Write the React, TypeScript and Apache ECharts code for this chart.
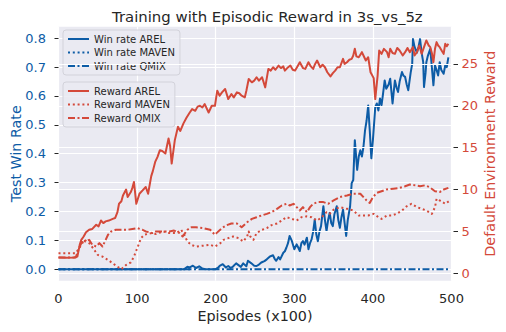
import React, { useEffect, useRef } from "react";
import * as echarts from "echarts";

// ---------- data ----------
const title = "Training with Episodic Reward in 3s_vs_5z";
const xName = "Episodes (x100)";
const leftName = "Test Win Rate";
const rightName = "Default Environment Reward";
const leftTicks = [0, 0.1, 0.2, 0.3, 0.4, 0.5, 0.6, 0.7, 0.8];
const rightTicks = [0, 5, 10, 15, 20, 25];
const winNames = ["Win rate AREL", "Win rate MAVEN", "Win rate QMIX"];
const rewardNames = ["Reward AREL", "Reward MAVEN", "Reward QMIX"];

const winArel = [
  [0, 0], [160, 0], [164, 0.008], [167, 0.006], [171, 0.012], [175, 0.004], [179, 0.01], [183, 0.002], [187, 0], [200, 0],
  [203, 0.005], [205, 0.011], [209, 0.017], [213, 0.006], [216, 0.011], [219, 0.004], [222, 0.009], [226, 0.02], [229, 0.014],
  [232, 0.008], [235, 0.02], [239, 0.01], [241, 0.029], [245, 0.021], [249, 0.012], [252, 0.011], [255, 0.016], [258, 0.023],
  [262, 0.028], [265, 0.034], [269, 0.044], [273, 0.048], [275, 0.036], [277, 0.029], [280, 0.042], [282, 0.034], [286, 0.057],
  [288, 0.062], [290, 0.075], [292, 0.09], [294, 0.115], [297, 0.097], [300, 0.069], [303, 0.086], [305, 0.075], [307, 0.063],
  [309, 0.09], [311, 0.097], [313, 0.085], [316, 0.109], [318, 0.069], [320, 0.09], [322, 0.103], [324, 0.13], [326, 0.172],
  [328, 0.12], [330, 0.097], [332, 0.13], [334, 0.149], [337, 0.218], [339, 0.17], [341, 0.132], [343, 0.17], [345, 0.195],
  [347, 0.16], [349, 0.149], [351, 0.19], [354, 0.218], [356, 0.17], [358, 0.143], [360, 0.18], [362, 0.206], [364, 0.16],
  [366, 0.115], [368, 0.17], [371, 0.218], [373, 0.298], [375, 0.309], [377, 0.447], [380, 0.344], [382, 0.39], [384, 0.412],
  [386, 0.39], [388, 0.424], [390, 0.481], [392, 0.515], [394, 0.567], [396, 0.481], [398, 0.384], [400, 0.447], [403, 0.561],
  [405, 0.574], [407, 0.55], [409, 0.591], [411, 0.568], [413, 0.61], [415, 0.654], [417, 0.625], [420, 0.64], [422, 0.66],
  [425, 0.574], [428, 0.654], [430, 0.63], [432, 0.614], [434, 0.65], [437, 0.683], [439, 0.67], [441, 0.666], [443, 0.64],
  [445, 0.62], [448, 0.68], [450, 0.711], [451, 0.797], [453, 0.77], [456, 0.75], [458, 0.77], [460, 0.797], [462, 0.75],
  [464, 0.717], [465, 0.631], [467, 0.68], [468, 0.717], [470, 0.74], [473, 0.763], [475, 0.7], [477, 0.637], [479, 0.706],
  [481, 0.69], [483, 0.671], [485, 0.717], [487, 0.69], [490, 0.677], [492, 0.706], [494, 0.7], [496, 0.734],
];
const winMaven = [[0, 0], [170, 0]];
const winQmix = [[0, 0], [100, 0], [200, 0], [300, 0], [400, 0], [496, 0]];

const rewardArel = [
  [0, 1.9], [10, 1.85], [20, 1.9], [24, 2.0], [27, 3.4], [29, 4.0], [32, 4.4], [35, 4.9], [39, 5.2], [43, 5.3], [48, 5.8],
  [51, 5.6], [54, 6.3], [57, 6.0], [60, 6.2], [64, 6.3], [69, 6.5], [72, 6.6], [75, 7.3], [77, 8.3], [80, 8.6], [82, 9.3],
  [86, 10.0], [88, 9.1], [92, 9.7], [94, 10.2], [96, 10.9], [99, 8.3], [103, 9.5], [107, 9.9], [111, 10.3], [114, 9.5],
  [118, 11.6], [120, 12.2], [123, 13.3], [126, 13.9], [129, 14.7], [132, 14.6], [136, 14.3], [140, 16.1], [142, 15.2],
  [144, 13.1], [148, 15.9], [152, 17.5], [155, 17.0], [159, 17.9], [163, 18.6], [167, 19.2], [170, 19.6], [174, 19.4],
  [177, 19.9], [180, 20.0], [183, 19.8], [186, 20.2], [191, 19.2], [195, 20.0], [199, 20.0], [202, 21.8], [205, 21.2],
  [208, 21.6], [212, 22.0], [216, 20.8], [220, 21.4], [223, 21.0], [227, 21.6], [230, 21.5], [233, 21.2], [237, 21.0],
  [239, 21.8], [242, 23.2], [246, 22.8], [249, 23.0], [252, 23.4], [255, 23.0], [259, 23.4], [263, 22.2], [267, 24.4],
  [270, 24.2], [273, 24.6], [276, 24.3], [280, 24.8], [283, 24.5], [286, 24.7], [288, 24.2], [291, 24.5], [295, 24.8],
  [298, 24.3], [301, 24.2], [304, 24.7], [307, 25.2], [311, 24.5], [314, 24.4], [318, 25.2], [321, 24.7], [324, 24.4],
  [326, 24.9], [329, 25.4], [333, 24.6], [336, 24.9], [339, 24.6], [342, 24.0], [346, 23.5], [349, 23.9], [352, 24.2],
  [355, 24.6], [358, 24.6], [362, 25.6], [364, 25.0], [367, 25.2], [370, 25.5], [373, 25.6], [375, 26.0], [377, 26.8],
  [379, 25.9], [382, 25.8], [386, 26.4], [388, 26.0], [391, 25.4], [394, 25.8], [397, 24.0], [401, 23.3], [403, 20.8],
  [406, 23.6], [408, 26.6], [411, 26.2], [414, 26.8], [418, 26.4], [420, 25.8], [422, 26.8], [425, 26.3], [428, 26.2],
  [431, 26.9], [434, 26.6], [438, 26.0], [441, 26.4], [444, 26.9], [447, 26.4], [451, 27.0], [453, 26.0], [456, 26.4],
  [459, 27.2], [462, 26.2], [465, 27.0], [468, 27.8], [471, 27.2], [473, 27.0], [475, 26.3], [477, 25.2], [479, 26.8],
  [481, 27.6], [483, 27.2], [485, 27.0], [488, 26.5], [490, 26.2], [492, 27.4], [494, 27.1], [496, 27.4],
];
const rewardMaven = [
  [0, 2.4], [22, 2.4], [29, 3.4], [33, 4.0], [39, 3.6], [44, 3.0], [50, 2.2], [56, 2.0], [63, 1.6], [69, 1.2], [75, 0.8],
  [80, 0.5], [86, 1.0], [92, 1.3], [96, 2.0], [101, 3.2], [105, 4.2], [109, 4.6], [118, 4.8], [124, 4.7], [133, 5.0],
  [141, 4.8], [150, 4.8], [156, 5.2], [160, 4.6], [164, 3.8], [169, 3.4], [175, 3.2], [184, 3.3], [193, 3.4], [199, 3.2],
  [206, 3.6], [210, 4.0], [216, 4.2], [222, 4.4], [229, 4.2], [235, 3.8], [240, 4.4], [242, 5.0], [244, 4.4], [248, 4.0],
  [252, 4.8], [259, 5.2], [265, 5.4], [271, 5.75], [278, 5.95], [284, 6.3], [290, 6.7], [297, 6.5], [303, 6.3], [309, 6.7],
  [316, 6.8], [322, 6.7], [329, 6.3], [335, 6.7], [341, 7.3], [345, 7.1], [350, 7.6], [358, 7.9], [367, 7.7], [375, 7.5],
  [382, 6.9], [388, 6.9], [394, 6.9], [401, 7.1], [407, 6.7], [411, 6.5], [418, 6.9], [424, 6.9], [430, 7.1], [437, 7.5],
  [443, 8.0], [449, 8.3], [456, 7.9], [462, 7.7], [468, 7.5], [475, 7.1], [479, 7.9], [481, 8.9], [485, 8.7], [492, 8.3],
  [498, 8.7],
];
const rewardQmix = [
  [0, 1.9], [22, 1.9], [26, 3.0], [31, 4.0], [34, 3.8], [39, 4.0], [43, 3.4], [48, 3.2], [52, 3.6], [56, 3.2], [60, 4.0],
  [63, 4.6], [67, 5.0], [73, 5.2], [82, 5.2], [88, 5.2], [94, 5.3], [100, 5.4], [107, 5.2], [111, 5.0], [120, 4.8],
  [124, 5.0], [133, 5.0], [141, 5.0], [147, 5.1], [154, 4.8], [158, 4.4], [164, 5.2], [169, 5.5], [175, 5.5], [184, 5.4],
  [193, 5.2], [199, 4.6], [201, 4.8], [208, 5.4], [214, 5.75], [220, 5.95], [227, 5.95], [233, 5.5], [240, 6.1], [246, 6.5],
  [252, 6.7], [258, 6.9], [265, 7.1], [271, 7.3], [278, 7.7], [284, 8.1], [290, 8.3], [294, 8.1], [299, 8.3], [303, 7.9],
  [307, 7.5], [311, 7.9], [316, 7.3], [320, 7.9], [324, 8.3], [330, 8.5], [337, 8.5], [343, 8.3], [350, 8.7], [358, 9.1],
  [367, 9.3], [375, 9.5], [384, 9.5], [388, 9.1], [392, 8.7], [396, 8.4], [400, 9.1], [405, 9.6], [411, 9.8], [417, 10.0],
  [426, 10.1], [434, 10.2], [441, 10.4], [447, 10.6], [454, 10.5], [460, 10.4], [466, 10.5], [472, 10.3], [479, 9.8],
  [485, 9.7], [490, 10.0], [496, 10.2],
];

// ---------- style ----------
const BLUE = "#0d5ca6";
const RED = "#d4493a";
const TXT = "#262626";
const FONT = "DejaVu Sans";
const DOT = [2, 2.8];
const DASHDOT = [7, 2.5, 2, 2.5];

export default function App() {
  const ref = useRef<HTMLDivElement>(null);
  useEffect(() => {
    document.body.style.margin = "0";
    const chart = echarts.init(ref.current as HTMLDivElement, null, { renderer: "svg" });
    const lineSeries = (name: string, data: number[][], color: string, type: any, yAxisIndex: number, z: number) => ({
      name,
      type: "line",
      data,
      yAxisIndex,
      symbol: "none",
      showSymbol: false,
      z,
      lineStyle: { color, width: 2, type, cap: "butt", join: "round" },
      itemStyle: { color },
    });
    const legendBase = {
      orient: "vertical",
      left: 63,
      itemWidth: 21,
      itemHeight: 10,
      itemGap: 3.5,
      padding: [4, 5, 4, 4],
      backgroundColor: "rgba(234,234,242,0.85)",
      borderColor: "#d2d2da",
      borderWidth: 1,
      borderRadius: 3,
      textStyle: { fontSize: 10, color: TXT, fontFamily: FONT },
      itemStyle: { opacity: 0, borderWidth: 0 },
      lineStyle: { width: 2 },
      selectedMode: false,
    };
    chart.setOption({
      animation: false,
      textStyle: { fontFamily: FONT },
      title: {
        text: title,
        left: 107,
        top: 4,
        textStyle: { fontSize: 14.9, fontWeight: "normal", color: TXT, fontFamily: FONT },
      },
      grid: {
        left: 58.5,
        right: 54.5,
        top: 26.7,
        bottom: 51.3,
        containLabel: false,
        outerBoundsMode: "none",
        show: true,
        backgroundColor: "#eaeaf2",
        borderWidth: 0,
      },
      legend: [
        { ...legendBase, top: 30, z: 3, data: winNames },
        { ...legendBase, top: 82, z: 6, data: rewardNames },
      ],
      xAxis: {
        type: "value",
        min: 0,
        max: 500,
        interval: 100,
        name: xName,
        nameLocation: "middle",
        nameGap: 28,
        nameMoveOverlap: false,
        nameTextStyle: { fontSize: 14.3, color: TXT, fontFamily: FONT },
        axisLine: { show: false },
        axisTick: { show: false },
        axisLabel: { fontSize: 13, color: TXT, margin: 11, fontFamily: FONT },
        splitLine: { show: true, lineStyle: { color: "#ffffff", width: 1.2 } },
      },
      yAxis: [
        {
          type: "value",
          position: "left",
          min: -0.04,
          max: 0.84,
          splitNumber: 8,
          offset: 5,
          name: leftName,
          nameLocation: "middle",
          nameGap: 31,
          nameMoveOverlap: false,
          nameTextStyle: { fontSize: 14.3, color: BLUE, fontFamily: FONT },
          axisLine: { show: false },
          axisTick: { show: true, length: 4, customValues: leftTicks, lineStyle: { color: TXT, width: 1 } },
          axisLabel: {
            customValues: leftTicks,
            fontSize: 13,
            color: BLUE,
            margin: 7.5,
            fontFamily: FONT,
            formatter: (v: number) => v.toFixed(1),
          },
          splitLine: { show: true, lineStyle: { color: "#ffffff", width: 1.2 } },
          z: 0,
        },
        {
          type: "value",
          position: "right",
          min: -0.88,
          max: 29.44,
          splitNumber: 6,
          offset: 2,
          name: rightName,
          nameLocation: "middle",
          nameGap: 29,
          nameMoveOverlap: false,
          nameTextStyle: { fontSize: 14.3, color: RED, fontFamily: FONT },
          axisLine: { show: false },
          axisTick: { show: true, length: 4.5, customValues: rightTicks, lineStyle: { color: TXT, width: 1 } },
          axisLabel: {
            customValues: rightTicks,
            fontSize: 13,
            color: RED,
            margin: 8,
            fontFamily: FONT,
            formatter: (v: number) => String(Math.round(v)),
          },
          splitLine: { show: true, lineStyle: { color: "#ffffff", width: 1.2 } },
          z: 4,
        },
      ],
      series: [
        lineSeries(winNames[0], winArel, BLUE, "solid", 0, 2),
        lineSeries(winNames[1], winMaven, BLUE, DOT, 0, 2),
        lineSeries(winNames[2], winQmix, BLUE, DASHDOT, 0, 2),
        lineSeries(rewardNames[0], rewardArel, RED, "solid", 1, 5),
        lineSeries(rewardNames[1], rewardMaven, RED, DOT, 1, 5),
        lineSeries(rewardNames[2], rewardQmix, RED, DASHDOT, 1, 5),
      ],
    });
    return () => chart.dispose();
  }, []);
  return <div ref={ref} style={{ width: 506, height: 332, position: "absolute", left: 0, top: 0 }} />;
}
